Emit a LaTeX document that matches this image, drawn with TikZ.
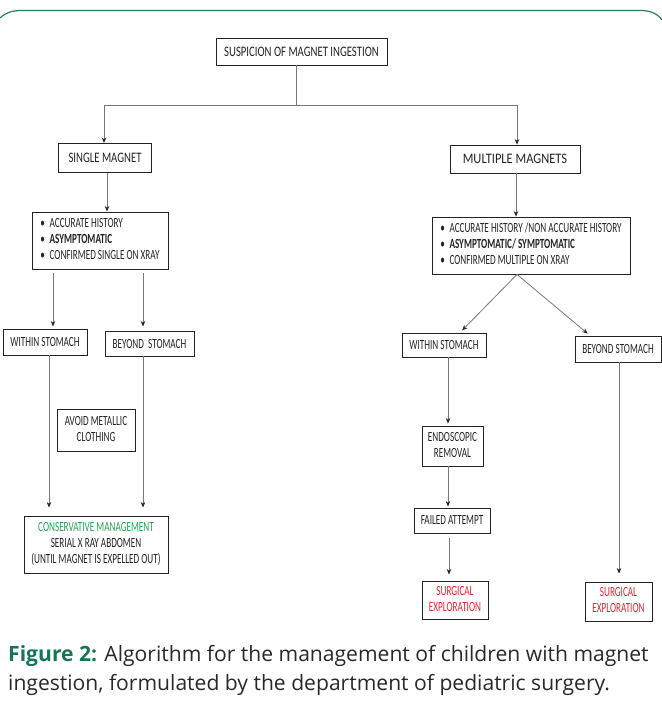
\documentclass[tikz,border=0pt]{standalone}
\usepackage{fontspec}
\usepackage{graphicx}
\setmainfont{Carlito}
\newfontfamily\capfont{Open Sans}
\usetikzlibrary{arrows.meta}
\definecolor{frameg}{RGB}{30,128,100}
\definecolor{capg}{RGB}{22,118,92}
\definecolor{consg}{RGB}{40,160,90}
\definecolor{surgr}{RGB}{230,35,45}
\definecolor{lineg}{RGB}{120,120,120}
\definecolor{capt}{RGB}{40,40,40}
\definecolor{boxc}{RGB}{35,35,35}
\newcommand{\sq}[2][0.655]{\scalebox{#1}[1]{#2}}
\newcommand{\bigf}{\fontsize{14.5}{17}\selectfont}
\newcommand{\smf}{\fontsize{14}{16}\selectfont}
\newcommand{\lines}[1]{\begin{tabular}{@{}c@{}}#1\end{tabular}}
\newcommand{\blines}[1]{\begin{tabular}{@{}l@{}}#1\end{tabular}}
\newcommand{\bul}{\textbullet\hspace{7pt}}
\begin{document}
\begin{tikzpicture}[x=1pt,y=-1pt,
  box/.style={draw=boxc, line width=0.9pt, inner sep=0pt, font=\smf, text=boxc},
  bbox/.style={box, font=\bigf},
  ln/.style={draw=lineg, line width=0.8pt},
  arr/.style={ln, -{Stealth[length=5.5pt,width=4.5pt,color=boxc]}},
  capline/.style={anchor=base west, inner sep=0pt, font=\capfont\fontsize{21.1}{29}\selectfont, text=capt}
]
\useasboundingbox (0,0) rectangle (662,713);
% frame
\draw[frameg, line width=1.2pt] (0,18) .. controls (6,12.5) and (12,10.5) .. (22,10.5) -- (640,10.5) .. controls (650,10.5) and (657,13) .. (662,20);

% nodes
\node[bbox, minimum width=171pt, minimum height=27pt] (top) at (301.5,51.5) {\sq[0.74]{SUSPICION OF MAGNET INGESTION}};
\node[bbox, minimum width=93pt, minimum height=29pt] (single) at (105,158) {\sq[0.74]{SINGLE MAGNET}};
\node[bbox, minimum width=130pt, minimum height=28pt] (multi) at (515,159) {\sq[0.86]{MULTIPLE MAGNETS}};
\node[box, minimum width=136pt, minimum height=57pt] (lb) at (100,240.5) {\sq{\blines{\bul ACCURATE HISTORY\\ \bul\textbf{ASYMPTOMATIC}\\ \bul CONFIRMED SINGLE ON XRAY}}};
\node[box, minimum width=198pt, minimum height=57pt] (rb) at (531,245.5) {\sq{\blines{\bul ACCURATE HISTORY /NON ACCURATE HISTORY\\ \bul\textbf{ASYMPTOMATIC/ SYMPTOMATIC}\\ \bul CONFIRMED MULTIPLE ON XRAY}}};
\node[box, minimum width=84pt, minimum height=26pt] (lw) at (45,342) {\sq{WITHIN STOMACH}};
\node[box, minimum width=89pt, minimum height=25pt] (lbe) at (149.5,343.5) {\sq{BEYOND\ \ STOMACH}};
\node[box, minimum width=78pt, minimum height=42pt] (avoid) at (96,430) {\sq{\lines{AVOID METALLIC\\CLOTHING}}};
\node[box, minimum width=144pt, minimum height=57pt] (cons) at (96,544.5) {\sq{\lines{\textcolor{consg}{CONSERVATIVE MANAGEMENT}\\SERIAL X RAY ABDOMEN\\(UNTIL MAGNET IS EXPELLED OUT)}}};
\node[box, minimum width=84pt, minimum height=24pt] (rw) at (444,345) {\sq{WITHIN STOMACH}};
\node[box, minimum width=86pt, minimum height=26pt] (rbe) at (618,349) {\sq{BEYOND STOMACH}};
\node[box, minimum width=61pt, minimum height=40pt] (endo) at (452.5,446) {\sq{\lines{ENDOSCOPIC\\REMOVAL}}};
\node[box, minimum width=76pt, minimum height=25pt] (failed) at (452,520.5) {\sq{FAILED ATTEMPT}};
\node[box, minimum width=66pt, minimum height=38pt, text=surgr] (surgl) at (455,600) {\sq{\lines{SURGICAL\\EXPLORATION}}};
\node[box, minimum width=67pt, minimum height=39pt, text=surgr] (surgr) at (618.5,601.5) {\sq{\lines{SURGICAL\\EXPLORATION}}};

% connectors
\coordinate (hl) at (104,105);
\coordinate (hr) at (517,105);
\draw[ln] (top.south -| 296,0) -- (296,105);
\draw[ln] (hl) -- (hr);
\draw[arr] (hl) -- (single.north -| hl);
\draw[arr] (hr) -- (multi.north -| hr);
\draw[arr] (single.south -| 107,0) -- (lb.north -| 107,0);
\draw[arr] (multi.south -| 516,0) -- (rb.north -| 516,0);
\draw[arr, shorten <=4pt, shorten >=2pt] (lb.south -| 53,0) -- (lw.north -| 53,0);
\draw[arr, shorten <=4pt, shorten >=4pt] (lb.south -| 143,0) -- (lbe.north -| 143,0);
\draw[arr, shorten >=8pt] (lw.south -| 49,0) -- (cons.north -| 49,0);
\draw[arr, shorten >=8pt] (lbe.south -| 143,0) -- (cons.north -| 143,0);
\draw[arr, shorten >=3pt] (rb.south -| 517,0) -- (rw.north -| 460,0);
\draw[arr, shorten >=3pt] (rb.south -| 517,0) -- (rbe.north -| 590,0);
\draw[arr, shorten >=2pt] (rw.south -| 448,0) -- (endo.north -| 448,0);
\draw[arr, shorten >=1pt] (endo.south -| 448,0) -- (failed.north -| 448,0);
\draw[arr, shorten <=5pt, shorten >=6pt] (failed.south -| 449,0) -- (surgl.north -| 449,0);
\draw[arr, shorten >=8pt] (rbe.south -| 619,0) -- (surgr.north -| 619,0);

% caption
\node[capline] (cap1) at (8,661) {\textcolor{capg}{\textbf{Figure 2:}} Algorithm for the management of children with magnet};
\node[capline] (cap2) at (8,690) {ingestion, formulated by the department of pediatric surgery.};
\end{tikzpicture}
\end{document}
